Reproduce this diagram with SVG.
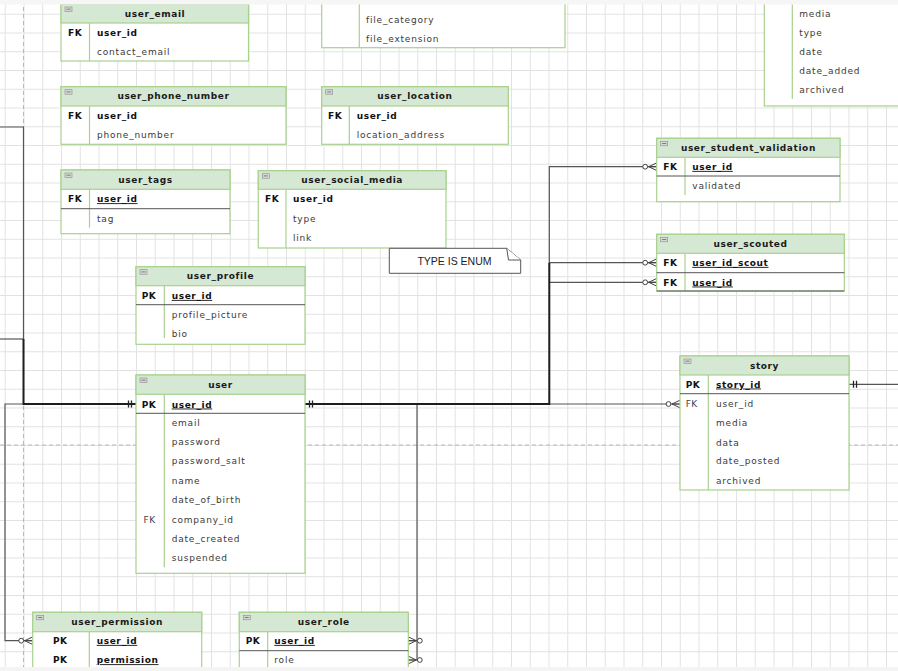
<svg xmlns="http://www.w3.org/2000/svg" width="898" height="671" viewBox="0 0 898 671">
<defs>
<pattern id="grid" patternUnits="userSpaceOnUse" x="4.75" y="13.75" width="18.75" height="18.75"><path d="M0,0.5 H18.75 M0.5,0 V18.75" fill="none" stroke="#e2e2e2" stroke-width="1"/></pattern>
<marker id="one" markerUnits="userSpaceOnUse" markerWidth="14" markerHeight="12" refX="12" refY="6" orient="auto-start-reverse" overflow="visible"><path d="M4.5,2.5 V9.5 M7.5,2.5 V9.5" stroke="#222" stroke-width="1.3" fill="none"/></marker>
<marker id="zmany" markerUnits="userSpaceOnUse" markerWidth="20" markerHeight="12" refX="18" refY="6" orient="auto-start-reverse" overflow="visible"><path d="M10,6 L18,2.2 M10,6 L18,9.8 M10,6 H18" stroke="#444" stroke-width="1" fill="none"/><circle cx="6.5" cy="6" r="2.4" fill="#fff" stroke="#444" stroke-width="1"/></marker>
</defs>
<style>
.tb{fill:#fff;stroke:#a9d18e;stroke-width:1.2}
.hd{fill:#d5e8d4;stroke:#a9d18e;stroke-width:1.2}
.dv{stroke:#a9d18e;stroke-width:1.2}
.sep{stroke:#555;stroke-width:1}
.ic{fill:#d6d6d6;stroke:#8a8a8a;stroke-width:0.6}
.icl{stroke:#666;stroke-width:0.8}
.t{font-family:"DejaVu Sans",Verdana,sans-serif;font-size:9px;font-weight:bold;fill:#1a1a1a;text-anchor:middle;letter-spacing:0.6px}
.k{font-family:"DejaVu Sans",Verdana,sans-serif;font-size:9px;font-weight:bold;fill:#111;letter-spacing:0.5px}
.kn{font-family:"DejaVu Sans",Verdana,sans-serif;font-size:9px;fill:#444;letter-spacing:0.5px}
.f{font-family:"DejaVu Sans",Verdana,sans-serif;font-size:9px;fill:#3a3a3a;letter-spacing:0.8px}
.fb{font-family:"DejaVu Sans",Verdana,sans-serif;font-size:9px;font-weight:bold;fill:#111;letter-spacing:0.6px}
.u{text-decoration:underline}
.thin{fill:none;stroke:#555;stroke-width:1.2}
.thick{fill:none;stroke:#1e1e1e;stroke-width:2}
.pg{stroke:#b8b8b8;stroke-dasharray:4 3;stroke-width:1}
.note{fill:#fff;stroke:#555;stroke-width:1}
.nt{font-family:"Liberation Sans",Arial,sans-serif;font-size:10.5px;fill:#222;text-anchor:middle}
</style>
<rect x="0" y="0" width="898" height="671" fill="#fff"/>
<rect x="0" y="0" width="898" height="671" fill="url(#grid)"/>
<line class="pg" x1="23.5" y1="0" x2="23.5" y2="671"/>
<line class="pg" x1="0" y1="445" x2="898" y2="445"/>

<g id="connectors">
<path class="thin" d="M0,127 H23.5 V339"/>
<path class="thin" d="M0,339 H23.5"/>
<path class="thin" d="M136,404 H5 V640.7 H32.7" marker-end="url(#zmany)"/>
<path class="thick" d="M23.5,339 V404 H136" marker-end="url(#one)"/>
<path class="thin" d="M305,404 H417 V640.7 H408.3" marker-end="url(#zmany)"/>
<path class="thin" d="M417,640.7 V660 H408.3" marker-end="url(#zmany)"/>
<path class="thin" d="M549.3,262.7 V166.7 H656.7" marker-end="url(#zmany)"/>
<path class="thin" d="M549.3,262.7 H656.7" marker-end="url(#zmany)"/>
<path class="thin" d="M549.3,282.3 H656.7" marker-end="url(#zmany)"/>
<path class="thin" d="M549.3,404 H680" marker-end="url(#zmany)"/>
<path class="thick" d="M305,404 H549.3 V262.7" marker-start="url(#one)"/>
<path class="thin" d="M849,384.3 H898" marker-start="url(#one)"/>
</g>

<g id="user_email">
<rect class="tb" x="61" y="4" width="187.5" height="57"/>
<rect class="hd" x="61" y="4" width="187.5" height="19"/>
<rect class="ic" x="65" y="7" width="7" height="4.5"/><line class="icl" x1="66.5" y1="9.2" x2="70.5" y2="9.2"/>
<text class="t" x="155" y="16.8">user_email</text>
<line class="dv" x1="89.5" y1="23" x2="89.5" y2="61"/>
<text class="k" x="68" y="35.5">FK</text>
<text class="fb" x="97" y="35.5">user_id</text>
<text class="f" x="97" y="54.9">contact_email</text>
</g>

<g id="user_phone_number">
<rect class="tb" x="61" y="86.7" width="225" height="57.6"/>
<rect class="hd" x="61" y="86.7" width="225" height="19.3"/>
<rect class="ic" x="65" y="89.7" width="7" height="4.5"/><line class="icl" x1="66.5" y1="91.9" x2="70.5" y2="91.9"/>
<text class="t" x="173.5" y="99.4">user_phone_number</text>
<line class="dv" x1="89.5" y1="106" x2="89.5" y2="144.3"/>
<text class="k" x="68" y="119.2">FK</text>
<text class="fb" x="97" y="119.2">user_id</text>
<text class="f" x="97" y="138.2">phone_number</text>
</g>

<g id="file_table">
<rect class="tb" x="321.7" y="-5" width="243.3" height="52.7"/>
<line class="dv" x1="359.3" y1="-5" x2="359.3" y2="47.7"/>
<text class="f" x="366" y="22.5">file_category</text>
<text class="f" x="366" y="42.2">file_extension</text>
</g>

<g id="user_location">
<rect class="tb" x="321.7" y="86.7" width="186.6" height="57.6"/>
<rect class="hd" x="321.7" y="86.7" width="186.6" height="19.3"/>
<rect class="ic" x="325.7" y="89.7" width="7" height="4.5"/><line class="icl" x1="327.2" y1="91.9" x2="331.2" y2="91.9"/>
<text class="t" x="415" y="99.4">user_location</text>
<line class="dv" x1="349.3" y1="106" x2="349.3" y2="144.3"/>
<text class="k" x="328" y="119.2">FK</text>
<text class="fb" x="356.7" y="119.2">user_id</text>
<text class="f" x="356.7" y="138.2">location_address</text>
</g>

<g id="media_table">
<rect class="tb" x="764.3" y="-5" width="150" height="111"/>
<line class="dv" x1="792.3" y1="-5" x2="792.3" y2="99"/>
<text class="f" x="799.3" y="16.9">media</text>
<text class="f" x="799.3" y="35.9">type</text>
<text class="f" x="799.3" y="54.9">date</text>
<text class="f" x="799.3" y="73.9">date_added</text>
<text class="f" x="799.3" y="93.2">archived</text>
</g>

<g id="user_student_validation">
<rect class="tb" x="656.7" y="138.3" width="183.3" height="63.4"/>
<rect class="hd" x="656.7" y="138.3" width="183.3" height="19"/>
<rect class="ic" x="660.7" y="141.3" width="7" height="4.5"/><line class="icl" x1="662.2" y1="143.5" x2="666.2" y2="143.5"/>
<text class="t" x="748.4" y="150.8">user_student_validation</text>
<line class="dv" x1="685" y1="157.3" x2="685" y2="195"/>
<line class="sep" x1="656.7" y1="176" x2="840" y2="176"/>
<text class="k" x="663.3" y="169.9">FK</text>
<text class="fb u" x="692.3" y="169.9">user_id</text>
<text class="f" x="692.3" y="188.9">validated</text>
</g>

<g id="user_tags">
<rect class="tb" x="61" y="170" width="169" height="63.7"/>
<rect class="hd" x="61" y="170" width="169" height="19.3"/>
<rect class="ic" x="65" y="173" width="7" height="4.5"/><line class="icl" x1="66.5" y1="175.2" x2="70.5" y2="175.2"/>
<text class="t" x="145.5" y="182.7">user_tags</text>
<line class="dv" x1="89.5" y1="189.3" x2="89.5" y2="227.7"/>
<line class="sep" x1="61" y1="208.7" x2="230" y2="208.7"/>
<text class="k" x="68" y="202.2">FK</text>
<text class="fb u" x="97" y="202.2">user_id</text>
<text class="f" x="97" y="222.2">tag</text>
</g>

<g id="user_social_media">
<rect class="tb" x="258.3" y="170.7" width="187.7" height="77.3"/>
<rect class="hd" x="258.3" y="170.7" width="187.7" height="18.6"/>
<rect class="ic" x="262.3" y="173.7" width="7" height="4.5"/><line class="icl" x1="263.8" y1="175.9" x2="267.8" y2="175.9"/>
<text class="t" x="352.2" y="183">user_social_media</text>
<line class="dv" x1="286" y1="189.3" x2="286" y2="248"/>
<text class="k" x="265" y="202.2">FK</text>
<text class="fb" x="293" y="202.2">user_id</text>
<text class="f" x="293" y="222.2">type</text>
<text class="f" x="293" y="240.5" fill="#555">link</text>
</g>

<g id="note_type_enum">
<path class="note" d="M389.3,248.3 H506.7 L520.7,260 V273.3 H389.3 Z"/>
<path class="note" d="M506.7,248.3 L508.5,260 H520.7" fill="none"/>
<text class="nt" x="454.5" y="264.8">TYPE IS ENUM</text>
</g>

<g id="user_profile">
<rect class="tb" x="136" y="266.7" width="169" height="77.6"/>
<rect class="hd" x="136" y="266.7" width="169" height="19"/>
<rect class="ic" x="140" y="269.7" width="7" height="4.5"/><line class="icl" x1="141.5" y1="271.9" x2="145.5" y2="271.9"/>
<text class="t" x="220.5" y="279.3">user_profile</text>
<line class="dv" x1="164.3" y1="285.7" x2="164.3" y2="338"/>
<line class="sep" x1="136" y1="304.7" x2="305" y2="304.7"/>
<text class="k" x="141.7" y="298.9">PK</text>
<text class="fb u" x="171.7" y="298.9">user_id</text>
<text class="f" x="171.7" y="317.9">profile_picture</text>
<text class="f" x="171.7" y="336.9">bio</text>
</g>

<g id="user">
<rect class="tb" x="136" y="375" width="169" height="198.3"/>
<rect class="hd" x="136" y="375" width="169" height="19.3"/>
<rect class="ic" x="140" y="378" width="7" height="4.5"/><line class="icl" x1="141.5" y1="380.2" x2="145.5" y2="380.2"/>
<text class="t" x="220.5" y="387.8">user</text>
<line class="dv" x1="164.3" y1="394.3" x2="164.3" y2="567.3"/>
<line class="sep" x1="136" y1="413.3" x2="305" y2="413.3"/>
<text class="k" x="141.7" y="407.5">PK</text>
<text class="fb u" x="171.7" y="407.5">user_id</text>
<text class="f" x="171.7" y="425.5">email</text>
<text class="f" x="171.7" y="444.9">password</text>
<text class="f" x="171.7" y="464.2">password_salt</text>
<text class="f" x="171.7" y="483.9">name</text>
<text class="f" x="171.7" y="503.2">date_of_birth</text>
<text class="kn" x="143.5" y="522.5">FK</text>
<text class="f" x="171.7" y="522.5">company_id</text>
<text class="f" x="171.7" y="541.5">date_created</text>
<text class="f" x="171.7" y="560.9">suspended</text>
</g>

<g id="story">
<rect class="tb" x="680" y="356" width="169" height="134"/>
<rect class="hd" x="680" y="356" width="169" height="19"/>
<rect class="ic" x="684" y="359" width="7" height="4.5"/><line class="icl" x1="685.5" y1="361.2" x2="689.5" y2="361.2"/>
<text class="t" x="764.5" y="368.6">story</text>
<line class="dv" x1="708.3" y1="375" x2="708.3" y2="490"/>
<line class="sep" x1="680" y1="393.7" x2="849" y2="393.7"/>
<text class="k" x="685.7" y="387.5">PK</text>
<text class="fb u" x="716" y="387.5">story_id</text>
<text class="kn" x="685.7" y="406.5">FK</text>
<text class="f" x="716" y="406.5">user_id</text>
<text class="f" x="716" y="425.9">media</text>
<text class="f" x="716" y="445.5">data</text>
<text class="f" x="716" y="464.2">date_posted</text>
<text class="f" x="716" y="483.9">archived</text>
</g>

<g id="user_scouted">
<rect class="tb" x="656.7" y="234.3" width="187.6" height="56.7"/>
<rect class="hd" x="656.7" y="234.3" width="187.6" height="19"/>
<rect class="ic" x="660.7" y="237.3" width="7" height="4.5"/><line class="icl" x1="662.2" y1="239.5" x2="666.2" y2="239.5"/>
<text class="t" x="750.5" y="246.8">user_scouted</text>
<line class="dv" x1="685" y1="253.3" x2="685" y2="291"/>
<line class="sep" x1="656.7" y1="272.7" x2="844.3" y2="272.7"/>
<line class="sep" x1="656.7" y1="291" x2="844.3" y2="291"/>
<text class="k" x="663.3" y="265.9">FK</text>
<text class="fb u" x="692.3" y="265.9">user_id_scout</text>
<text class="k" x="663.3" y="285.5">FK</text>
<text class="fb u" x="692.3" y="285.5">user_id</text>
</g>

<g id="user_permission">
<rect class="tb" x="32.7" y="612.3" width="169" height="80"/>
<rect class="hd" x="32.7" y="612.3" width="169" height="19.4"/>
<rect class="ic" x="36.7" y="615.3" width="7" height="4.5"/><line class="icl" x1="38.2" y1="617.5" x2="42.2" y2="617.5"/>
<text class="t" x="117.2" y="625">user_permission</text>
<line class="dv" x1="89.3" y1="631.7" x2="89.3" y2="692"/>
<text class="k" x="53" y="643.9">PK</text>
<text class="fb u" x="96.7" y="643.9">user_id</text>
<text class="k" x="53" y="663.2">PK</text>
<text class="fb u" x="96.7" y="663.2">permission</text>
</g>

<g id="user_role">
<rect class="tb" x="239.3" y="612.3" width="169" height="80"/>
<rect class="hd" x="239.3" y="612.3" width="169" height="19.4"/>
<rect class="ic" x="243.3" y="615.3" width="7" height="4.5"/><line class="icl" x1="244.8" y1="617.5" x2="248.8" y2="617.5"/>
<text class="t" x="323.8" y="625">user_role</text>
<line class="dv" x1="267.7" y1="631.7" x2="267.7" y2="692"/>
<line class="sep" x1="239.3" y1="650.7" x2="408.3" y2="650.7"/>
<text class="k" x="245.7" y="643.9">PK</text>
<text class="fb u" x="274.3" y="643.9">user_id</text>
<text class="f" x="274.3" y="663.2">role</text>
</g>

<rect x="0" y="0" width="898" height="4.5" fill="#f6f6f6"/>
<rect x="0" y="667" width="898" height="4" fill="#f4f4f4"/>
</svg>
